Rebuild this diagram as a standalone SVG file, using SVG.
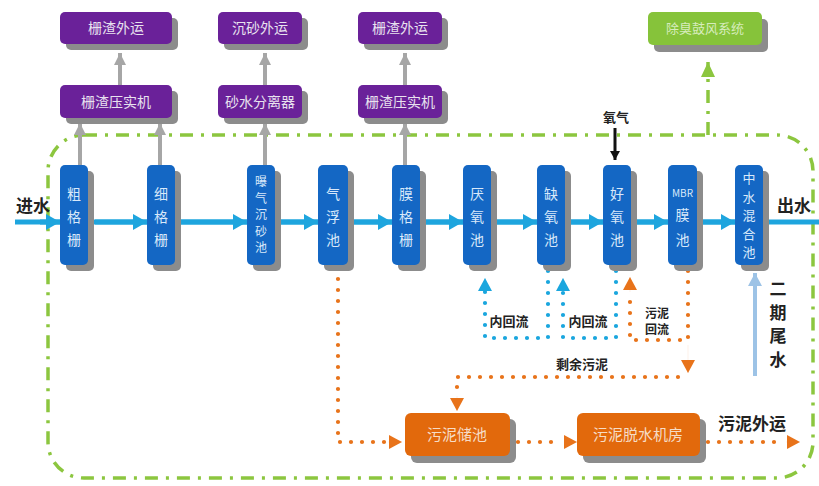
<svg xmlns="http://www.w3.org/2000/svg" width="819" height="486" viewBox="0 0 819 486">
<style>
text{font-family:"Noto Sans CJK SC","Noto Sans",sans-serif}
.shadow{fill:#8c8c8c}
.purple{fill:#6a2199}
.ptxt{fill:#e8e2ef;font-size:14px;text-anchor:middle}
.blue{fill:#1467c4}
.btxt{fill:#d9e9fa;font-size:14px;text-anchor:middle}
.orange{fill:#e2690c}
.otxt{fill:#f6dcc6;font-size:15px;text-anchor:middle}
.green{fill:#86c33a}
.gtxt{fill:#d6ecbc;font-size:13px;text-anchor:middle}
.lbl{fill:#222;font-weight:bold;text-anchor:middle}
.flow{stroke:#1ea5de;stroke-width:5;fill:none;marker-end:url(#hBlue)}
.gray{stroke:#a6a6a6;stroke-width:4;fill:none;marker-end:url(#hGray)}
.odot{stroke:#e8731a;stroke-width:4.2;fill:none;stroke-dasharray:0 11;stroke-linecap:round}
.bdot{stroke:#1aa6de;stroke-width:4.2;fill:none;stroke-dasharray:0 11;stroke-linecap:round}
.gdash{stroke:#8cc63f;stroke-width:3.5;fill:none;stroke-dasharray:13 8 3 8}
.hd{stroke-width:0.1;fill:none}
</style>
<defs>
<marker id="hBlue" markerUnits="userSpaceOnUse" markerWidth="14" markerHeight="16" refX="14" refY="8" orient="auto"><path d="M0,0 L14,8 L0,16 z" fill="#1ea5de"/></marker>
<marker id="hGray" markerUnits="userSpaceOnUse" markerWidth="14" markerHeight="12" refX="12" refY="6" orient="auto"><path d="M0,0 L12,6 L0,12 z" fill="#a6a6a6"/></marker>
<marker id="hOrange" markerUnits="userSpaceOnUse" markerWidth="14" markerHeight="14" refX="13" refY="7" orient="auto"><path d="M0,0 L13,7 L0,14 z" fill="#e8731a"/></marker>
<marker id="hBdot" markerUnits="userSpaceOnUse" markerWidth="14" markerHeight="14" refX="13" refY="7" orient="auto"><path d="M0,0 L13,7 L0,14 z" fill="#1aa6de"/></marker>
<marker id="hGreen" markerUnits="userSpaceOnUse" markerWidth="16" markerHeight="14" refX="15" refY="7" orient="auto"><path d="M0,0 L15,7 L0,14 z" fill="#8cc63f"/></marker>
<marker id="hBlack" markerUnits="userSpaceOnUse" markerWidth="10" markerHeight="10" refX="9" refY="5" orient="auto"><path d="M0,0 L9,5 L0,10 z" fill="#111"/></marker>
<marker id="hLight" markerUnits="userSpaceOnUse" markerWidth="14" markerHeight="14" refX="13" refY="7" orient="auto"><path d="M0,0 L13,7 L0,14 z" fill="#9dc3e6"/></marker>
</defs>
<rect width="819" height="486" fill="#ffffff"/>

<g id="boundary">
<rect class="gdash" x="48" y="135" width="765" height="343" rx="36"/>
</g>

<g id="connectors">
<line x1="15" y1="222" x2="819" y2="222" stroke="#1ea5de" stroke-width="5"/>
<path class="flow" d="M40,222 H60"/>
<path class="flow" d="M95,222 H147"/>
<path class="flow" d="M180,222 H247"/>
<path class="flow" d="M280,222 H318"/>
<path class="flow" d="M352,222 H392"/>
<path class="flow" d="M425,222 H463"/>
<path class="flow" d="M495,222 H537"/>
<path class="flow" d="M568,222 H603"/>
<path class="flow" d="M635,222 H668"/>
<path class="flow" d="M702,222 H735"/>
<path class="gray" d="M80,165 V123"/>
<path class="gray" d="M160,165 V123"/>
<path class="gray" d="M265,165 V123"/>
<path class="gray" d="M405,165 V123"/>
<path class="gray" d="M120,85 V53"/>
<path class="gray" d="M265,85 V53"/>
<path class="gray" d="M405,85 V53"/>
<path class="gdash" d="M708,135 V62" marker-end="url(#hGreen)"/>
<line x1="615" y1="128" x2="615" y2="160" stroke="#111" stroke-width="3" marker-end="url(#hBlack)"/>
<path class="bdot" d="M548,271 V338 H485 V290"/>
<line class="hd" x1="485" y1="292" x2="485" y2="278" stroke="#1aa6de" marker-end="url(#hBdot)"/>
<path class="bdot" d="M616,271 V338 H563 V290"/>
<line class="hd" x1="563" y1="292" x2="563" y2="278" stroke="#1aa6de" marker-end="url(#hBdot)"/>
<path class="odot" d="M688,271 V340 H630 V292"/>
<line class="hd" x1="630" y1="292" x2="630" y2="277" stroke="#e8731a" marker-end="url(#hOrange)"/>
<line class="hd" x1="688" y1="345" x2="688" y2="373" stroke="#e8731a" marker-end="url(#hOrange)"/>
<path class="odot" d="M678,377 H457 V398"/>
<line class="hd" x1="457" y1="396" x2="457" y2="411" stroke="#e8731a" marker-end="url(#hOrange)"/>
<path class="odot" d="M338,268 V442 H385"/>
<line class="hd" x1="388" y1="442" x2="402" y2="442" stroke="#e8731a" marker-end="url(#hOrange)"/>
<path class="odot" d="M518,442 H562"/>
<line class="hd" x1="564" y1="442" x2="577" y2="442" stroke="#e8731a" marker-end="url(#hOrange)"/>
<path class="odot" d="M708,442 H785"/>
<line class="hd" x1="786" y1="442" x2="800" y2="442" stroke="#e8731a" marker-end="url(#hOrange)"/>
<line x1="755" y1="376" x2="755" y2="273" stroke="#9dc3e6" stroke-width="4" marker-end="url(#hLight)"/>
</g>

<g id="n-zhazha1"><rect class="shadow" x="66" y="18" width="112" height="32" rx="5"/><rect class="purple" x="60" y="12" width="112" height="32" rx="5"/><text class="ptxt" x="116" y="33">栅渣外运</text></g>
<g id="n-chensha"><rect class="shadow" x="224" y="18" width="84" height="32" rx="5"/><rect class="purple" x="218" y="12" width="84" height="32" rx="5"/><text class="ptxt" x="260" y="33">沉砂外运</text></g>
<g id="n-zhazha2"><rect class="shadow" x="364" y="18" width="84" height="32" rx="5"/><rect class="purple" x="358" y="12" width="84" height="32" rx="5"/><text class="ptxt" x="400" y="33">栅渣外运</text></g>
<g id="n-chuchou"><rect class="shadow" x="654" y="19" width="114" height="33" rx="5"/><rect class="green" x="648" y="12" width="114" height="33" rx="5"/><text class="gtxt" x="705" y="33">除臭鼓风系统</text></g>

<g id="n-yashi1"><rect class="shadow" x="66" y="91" width="112" height="33" rx="5"/><rect class="purple" x="60" y="85" width="112" height="33" rx="5"/><text class="ptxt" x="116" y="107">栅渣压实机</text></g>
<g id="n-shashui"><rect class="shadow" x="224" y="91" width="84" height="33" rx="5"/><rect class="purple" x="218" y="85" width="84" height="33" rx="5"/><text class="ptxt" x="260" y="107">砂水分离器</text></g>
<g id="n-yashi2"><rect class="shadow" x="364" y="91" width="84" height="33" rx="5"/><rect class="purple" x="358" y="85" width="84" height="33" rx="5"/><text class="ptxt" x="400" y="107">栅渣压实机</text></g>

<g id="n-cugeshan"><rect class="shadow" x="66" y="171" width="28" height="100" rx="5"/><rect class="blue" x="60" y="165" width="28" height="100" rx="5"/><text class="btxt"><tspan x="74" y="199">粗</tspan><tspan x="74" y="222">格</tspan><tspan x="74" y="245">栅</tspan></text></g>
<g id="n-xigeshan"><rect class="shadow" x="153" y="171" width="28" height="100" rx="5"/><rect class="blue" x="147" y="165" width="28" height="100" rx="5"/><text class="btxt"><tspan x="161" y="199">细</tspan><tspan x="161" y="222">格</tspan><tspan x="161" y="245">栅</tspan></text></g>
<g id="n-chenshachi"><rect class="shadow" x="253" y="171" width="28" height="100" rx="5"/><rect class="blue" x="247" y="165" width="28" height="100" rx="5"/><text class="btxt" style="font-size:12px"><tspan x="261" y="186">曝</tspan><tspan x="261" y="202.5">气</tspan><tspan x="261" y="219">沉</tspan><tspan x="261" y="235.5">砂</tspan><tspan x="261" y="252">池</tspan></text></g>
<g id="n-qifu"><rect class="shadow" x="324" y="171" width="30" height="100" rx="5"/><rect class="blue" x="318" y="165" width="30" height="100" rx="5"/><text class="btxt"><tspan x="333" y="199">气</tspan><tspan x="333" y="222">浮</tspan><tspan x="333" y="245">池</tspan></text></g>
<g id="n-mogeshan"><rect class="shadow" x="398" y="171" width="28" height="100" rx="5"/><rect class="blue" x="392" y="165" width="28" height="100" rx="5"/><text class="btxt"><tspan x="406" y="199">膜</tspan><tspan x="406" y="222">格</tspan><tspan x="406" y="245">栅</tspan></text></g>
<g id="n-yanyang"><rect class="shadow" x="469" y="171" width="28" height="100" rx="5"/><rect class="blue" x="463" y="165" width="28" height="100" rx="5"/><text class="btxt"><tspan x="477" y="199">厌</tspan><tspan x="477" y="222">氧</tspan><tspan x="477" y="245">池</tspan></text></g>
<g id="n-queyang"><rect class="shadow" x="543" y="171" width="28" height="100" rx="5"/><rect class="blue" x="537" y="165" width="28" height="100" rx="5"/><text class="btxt"><tspan x="551" y="199">缺</tspan><tspan x="551" y="222">氧</tspan><tspan x="551" y="245">池</tspan></text></g>
<g id="n-haoyang"><rect class="shadow" x="609" y="171" width="28" height="100" rx="5"/><rect class="blue" x="603" y="165" width="28" height="100" rx="5"/><text class="btxt"><tspan x="617" y="199">好</tspan><tspan x="617" y="222">氧</tspan><tspan x="617" y="245">池</tspan></text></g>
<g id="n-mbr"><rect class="shadow" x="674" y="171" width="29" height="100" rx="5"/><rect class="blue" x="668" y="165" width="29" height="100" rx="5"/><text class="btxt"><tspan x="682.5" y="197" style="font-size:10px">MBR</tspan><tspan x="682.5" y="220">膜</tspan><tspan x="682.5" y="245">池</tspan></text></g>
<g id="n-zhongshui"><rect class="shadow" x="741" y="171" width="28" height="100" rx="5"/><rect class="blue" x="735" y="165" width="28" height="100" rx="5"/><text class="btxt" style="font-size:13px"><tspan x="749" y="183">中</tspan><tspan x="749" y="201.5">水</tspan><tspan x="749" y="220">混</tspan><tspan x="749" y="238.5">合</tspan><tspan x="749" y="257">池</tspan></text></g>

<g id="n-chuchi"><rect class="shadow" x="411" y="419" width="105" height="44" rx="6"/><rect class="orange" x="405" y="413" width="105" height="43" rx="6"/><text class="otxt" x="457" y="440">污泥储池</text></g>
<g id="n-tuoshui"><rect class="shadow" x="583" y="419" width="123" height="44" rx="6"/><rect class="orange" x="577" y="413" width="123" height="43" rx="6"/><text class="otxt" x="638" y="440">污泥脱水机房</text></g>

<g id="labels">
<text class="lbl" x="33" y="212" style="font-size:17px">进水</text>
<text class="lbl" x="794" y="212" style="font-size:17px">出水</text>
<text class="lbl" x="616" y="122" style="font-size:13px">氧气</text>
<text class="lbl" x="509" y="326" style="font-size:13px">内回流</text>
<text class="lbl" x="588" y="326" style="font-size:13px">内回流</text>
<text class="lbl" style="font-size:12px"><tspan x="657" y="318">污泥</tspan><tspan x="657" y="334">回流</tspan></text>
<text class="lbl" x="582" y="369" style="font-size:13px">剩余污泥</text>
<text class="lbl" x="752" y="430" style="font-size:17px">污泥外运</text>
<text class="lbl" style="font-size:17px"><tspan x="778" y="295">二</tspan><tspan x="778" y="318.5">期</tspan><tspan x="778" y="342">尾</tspan><tspan x="778" y="365.5">水</tspan></text>
</g>
</svg>
